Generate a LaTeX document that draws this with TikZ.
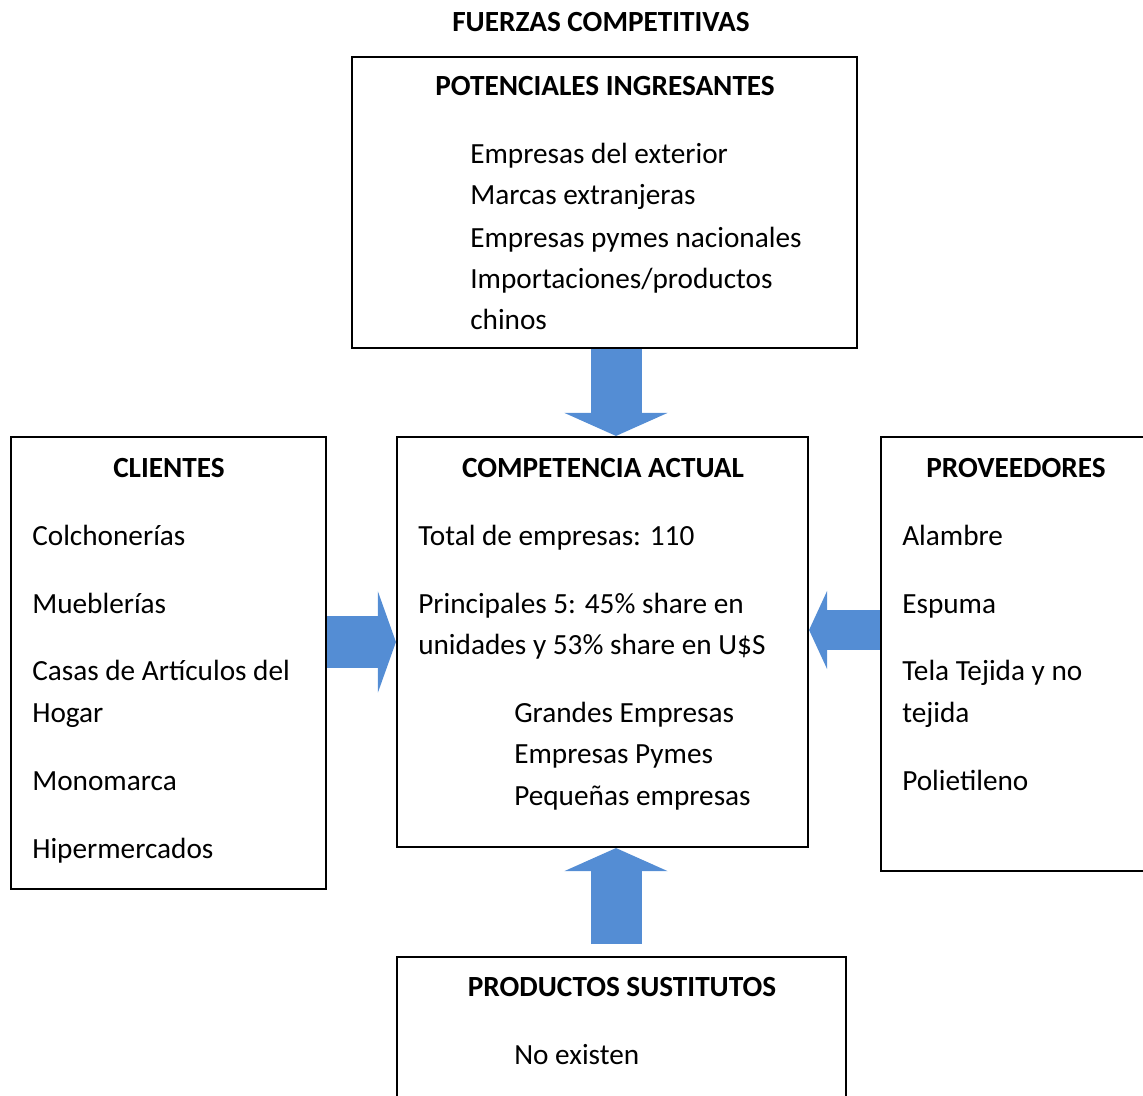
\documentclass[tikz,border=0pt]{standalone}
\usepackage{fontspec}
\setmainfont{Carlito}
\usepackage{xcolor}
\usepackage{tikz}
\usetikzlibrary{arrows.meta, fit}
\definecolor{arrowblue}{RGB}{84,141,212}
\newcommand{\forcefont}{\fontsize{20.8pt}{30pt}\selectfont}
\tikzset{
  box/.style={draw=black, line width=1.5pt, inner sep=0pt},
  ttl/.style={anchor=base, inner sep=0pt, font=\forcefont\bfseries},
  txt/.style={anchor=base west, inner sep=0pt, font=\forcefont},
  vbig/.style={draw=arrowblue, line width=1.275cm, -{Triangle[width=2.575cm, length=0.575cm, line width=0pt]}},
  rbig/.style={draw=arrowblue, line width=1.275cm, -{Triangle[width=2.525cm, length=0.45cm, line width=0pt]}},
  lbig/.style={draw=arrowblue, line width=1.0cm, -{Triangle[width=1.95cm, length=0.45cm, line width=0pt]}}
}

\begin{document}
\begin{tikzpicture}[x=0.025cm, y=-0.025cm]
\clip (0,0) rectangle (1143,1096);
\useasboundingbox (0,0) rectangle (1143,1096);

% Title
\node (title) [ttl] at (601,32) {FUERZAS COMPETITIVAS};

% Boxes
\node (pot) [box, fit={(352,57) (857,348)}] {};
\node (cli) [box, fit={(11,437) (326,889)}] {};
\node (comp) [box, fit={(397,437) (808,847)}] {};
\node (prov) [box, fit={(881,437) (1170,871)}] {};
\node (sust) [box, fit={(397,957) (846,1130)}] {};

% Potenciales ingresantes
\node (pott) [ttl] at (605,96) {POTENCIALES INGRESANTES};
\node (pot1) [txt] at (470,164) {Empresas del exterior};
\node (pot2) [txt] at (470,205) {Marcas extranjeras};
\node (pot3) [txt] at (470,247) {Empresas pymes nacionales};
\node (pot4) [txt] at (470,288) {Importaciones/productos};
\node (pot5) [txt] at (470,329) {chinos};

% Clientes
\node (clit) [ttl] at (169,477) {CLIENTES};
\node (cli1) [txt] at (32,545) {Colchonerías};
\node (cli2) [txt] at (32,613) {Mueblerías};
\node (cli3) [txt] at (32,680) {Casas de Artículos del};
\node (cli4) [txt] at (32,722) {Hogar};
\node (cli5) [txt] at (32,790) {Monomarca};
\node (cli6) [txt] at (32,858) {Hipermercados};

% Competencia actual
\node (compt) [ttl] at (603,477) {COMPETENCIA ACTUAL};
\node (comp1) [txt] at (418,545) {Total de empresas: 110};
\node (comp2) [txt] at (418,613) {Principales 5: 45\% share en};
\node (comp3) [txt] at (418,654) {unidades y 53\% share en U\$S};
\node (comp4) [txt] at (514,722) {Grandes Empresas};
\node (comp5) [txt] at (514,763) {Empresas Pymes};
\node (comp6) [txt] at (514,805) {Pequeñas empresas};

% Proveedores
\node (provt) [ttl] at (1016,477) {PROVEEDORES};
\node (prov1) [txt] at (902,545) {Alambre};
\node (prov2) [txt] at (902,613) {Espuma};
\node (prov3) [txt] at (902,680) {Tela Tejida y no};
\node (prov4) [txt] at (902,722) {tejida};
\node (prov5) [txt] at (902,790) {Polietileno};

% Productos sustitutos
\node (sustt) [ttl] at (622,996) {PRODUCTOS SUSTITUTOS};
\node (sust1) [txt] at (514,1064) {No existen};

% Forces
\coordinate (sustup) at (616,944);
\draw [vbig] (616,0 |- pot.south) -- (616,0 |- comp.north);
\draw [vbig] (sustup) -- (616,0 |- comp.south);
\draw [rbig] (cli.east |- 0,642) -- (comp.west |- 0,642);
\draw [lbig] (prov.west |- 0,630) -- (comp.east |- 0,630);

\end{tikzpicture}
\end{document}
